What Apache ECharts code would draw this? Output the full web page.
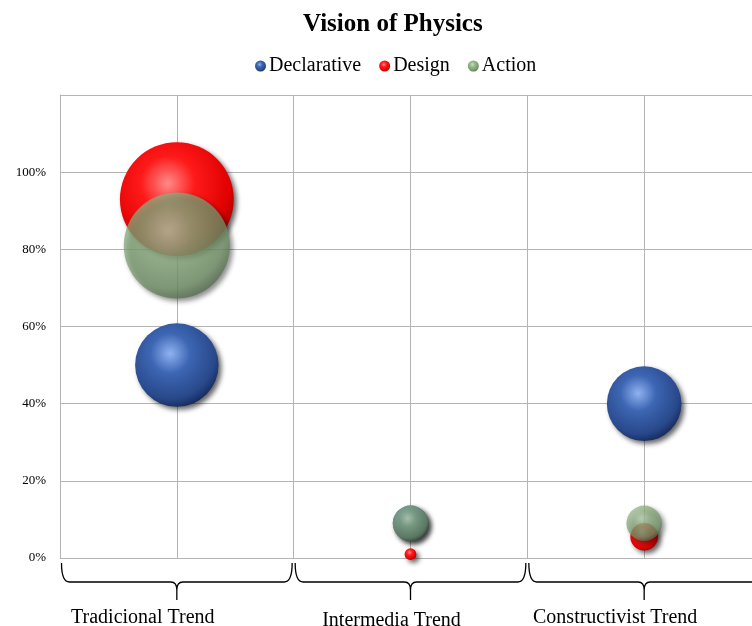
<!DOCTYPE html>
<html>
<head>
<meta charset="utf-8">
<script src="https://cdn.jsdelivr.net/npm/echarts@6/dist/echarts.min.js"></script>
<style>html,body{margin:0;padding:0;background:#fff}#c{width:752px;height:626px}</style>
</head>
<body>
<div id="c"></div>
<script>
// ---- data ----
const categories = ['Tradicional Trend', 'Intermedia Trend', 'Constructivist Trend'];
const categoryX = [1, 2, 3];
const declarative = [50, 9, 40];
const design = [93, 1, 5.5];
const action = [81, 9, 9];
const yTicks = [0, 20, 40, 60, 80, 100, 120];

// ---- styles ----
const FONT = '"Liberation Serif", "Times New Roman", serif';
const labelDx = [-34, -19, -29];
const labelDy = [60, 63, 60];

function sphere(stops) {
  return {
    type: 'radial', x: 0.42, y: 0.36, r: 0.68,
    colorStops: stops.map((c, i) => ({ offset: [0, 0.35, 0.8, 1][i], color: c }))
  };
}
const blueFill = sphere(['#8fb2f2', '#3d66b3', '#28488a', '#142656']);
const redFill = sphere(['#ff8a8a', '#ff1a1a', '#e00000', '#9a0000']);
const greenFill = sphere(['#c6dfbc', '#95ba89', '#76986a', '#4a6344']);

function pts(vals) { return vals.map((v, i) => [categoryX[i], v]); }
function sizeOf(d) { return 11.8 * Math.sqrt(d[1]); }

function bubble(name, vals, fill, opacity) {
  return {
    name, type: 'scatter', data: pts(vals), symbolSize: sizeOf,
    itemStyle: {
      color: fill, opacity: opacity,
      shadowBlur: 5, shadowOffsetX: 3, shadowOffsetY: 3, shadowColor: 'rgba(0,0,0,0.6)'
    },
    emphasis: { disabled: true }, z: 3
  };
}

const chart = echarts.init(document.getElementById('c'));
chart.setOption({
  animation: false,
  backgroundColor: '#fff',
  title: {
    text: 'Vision of Physics', left: 298, top: 7,
    textStyle: { fontFamily: FONT, fontSize: 25, fontWeight: 'bold', color: '#000' }
  },
  legend: {
    top: 51, left: 250, itemWidth: 11, itemHeight: 11, itemGap: 18,
    icon: 'circle',
    itemStyle: { shadowBlur: 0, shadowOffsetX: 0, shadowOffsetY: 0, opacity: 1 },
    textStyle: { fontFamily: FONT, fontSize: 20, color: '#000', padding: [0, 0, 0, -2] },
    data: ['Declarative', 'Design', 'Action']
  },
  grid: { left: 60, top: 95, width: 692, height: 463 },
  xAxis: {
    type: 'value', min: 0.5, max: 3.4615, interval: 0.5,
    axisLine: { show: false }, axisTick: { show: false }, axisLabel: { show: false },
    splitLine: { show: true, lineStyle: { color: '#b4b4b4', width: 1 } }
  },
  yAxis: {
    type: 'value', min: yTicks[0], max: yTicks[yTicks.length - 1], interval: 20,
    axisLine: { show: true, lineStyle: { color: '#b4b4b4' } },
    axisTick: { show: false },
    axisLabel: {
      margin: 14, fontFamily: FONT, fontSize: 13, color: '#000',
      formatter: v => v === 120 ? '' : v + '%'
    },
    splitLine: { show: true, lineStyle: { color: '#b4b4b4', width: 1 } }
  },
  series: [
    bubble('Declarative', declarative, blueFill, 1),
    bubble('Design', design, redFill, 1),
    bubble('Action', action, greenFill, 0.72),
    {
      type: 'custom', name: 'braces', clip: false, silent: true, z: 5,
      data: categoryX.map((x, i) => [x, 0, i]),
      renderItem: function (params, api) {
        const x = api.value(0), i = api.value(2);
        const a = api.coord([x - 0.5, 0]), b = api.coord([x + 0.5, 0]), c = api.coord([x, 0]);
        const x0 = a[0] + 1.5, x1 = b[0] - 1.5, xc = c[0], y = c[1];
        const top = y + 5, mid = y + 24, tip = y + 42;
        const path = `M${x0},${top} Q${x0},${mid} ${x0 + 8},${mid} L${xc - 6},${mid} Q${xc},${mid} ${xc},${mid + 8} L${xc},${tip} M${xc},${mid + 8} Q${xc},${mid} ${xc + 6},${mid} L${x1 - 8},${mid} Q${x1},${mid} ${x1},${top}`;
        return {
          type: 'group',
          children: [
            { type: 'path', shape: { pathData: path }, style: { fill: 'none', stroke: '#000', lineWidth: 1.3 } },
            {
              type: 'text',
              style: {
                text: categories[i], x: xc + labelDx[i], y: y + labelDy[i],
                align: 'center', verticalAlign: 'middle',
                font: '20px ' + FONT, fill: '#000'
              }
            }
          ]
        };
      }
    }
  ]
});
</script>
</body>
</html>
